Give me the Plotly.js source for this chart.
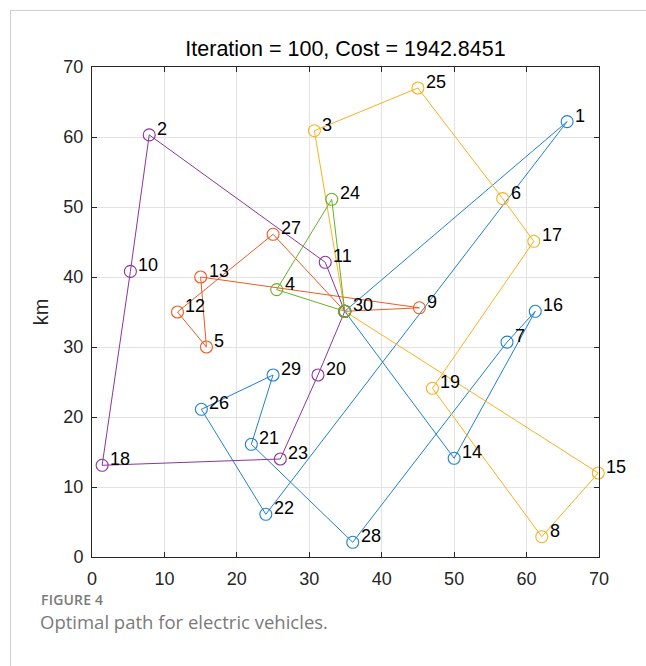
<!DOCTYPE html>
<html>
<head>
<meta charset="utf-8">
<script src="https://cdn.plot.ly/plotly-3.0.1.min.js"></script>
<style>
  html, body { margin: 0; padding: 0; background: #fff; }
  #wrap { position: relative; width: 646px; height: 666px; }
  #chart { position: absolute; left: 0; top: 0; width: 646px; height: 666px; }
  #frame { position: absolute; left: 10px; top: 10px; width: 636px; height: 656px;
           border-left: 1px solid #cfcfcf; border-top: 1px solid #cfcfcf; pointer-events: none; }
  #cap1 { position: absolute; left: 41px; top: 591px; font-family: "Open Sans", "Noto Sans", sans-serif;
          font-size: 14px; line-height: 18px; font-weight: 600; color: #7a7a7a; letter-spacing: 0.2px; }
  #cap2 { position: absolute; left: 40px; top: 610px; font-family: "Open Sans", "Noto Sans", sans-serif;
          font-size: 18.5px; line-height: 24px; color: #7a7a7a; }
</style>
</head>
<body>
<div id="wrap">
  <div id="chart"></div>
  <div id="frame"></div>
  <div id="cap1">FIGURE 4</div>
  <div id="cap2">Optimal path for electric vehicles.</div>
</div>
<script>
// Node coordinates (km), node i is at index i-1
const nodeIds = [1,2,3,4,5,6,7,8,9,10,11,12,13,14,15,16,17,18,19,20,21,22,23,24,25,26,27,28,29,30];
const nodeX = [65.6, 7.9, 30.7, 25.5, 15.8, 56.7, 57.3, 62.1, 45.2, 5.3,
               32.2, 11.8, 15.0, 50.0, 69.9, 61.2, 61.0, 1.4, 47.0, 31.2,
               22.0, 24.0, 26.0, 33.1, 45.0, 15.1, 25.0, 36.0, 25.0, 34.9];
const nodeY = [62.2, 60.3, 60.9, 38.2, 30.0, 51.2, 30.7, 2.9, 35.6, 40.8,
               42.1, 35.0, 40.0, 14.1, 12.0, 35.1, 45.1, 13.1, 24.1, 26.0,
               16.1, 6.1, 14.0, 51.1, 67.0, 21.1, 46.1, 2.1, 26.0, 35.1];

// Vehicle routes (node ids)
const route1 = [30, 1, 22, 26, 29, 21, 28, 7, 16, 14, 30];
const route2 = [30, 27, 12, 5, 13, 9, 30];
const route3 = [30, 3, 25, 6, 17, 19, 8, 15, 30];
const route4 = [30, 11, 2, 10, 18, 23, 20, 30];
const route5 = [30, 4, 24, 30];

const routes = [route1, route2, route3, route4, route5];
const routeColors = ['#1f80cf', '#f05a22', '#f7b21e', '#8b359b', '#6aaf2a'];

const titleText = 'Iteration = 100, Cost = 1942.8451';
const yTitle = 'km';
const tickVals = [0, 10, 20, 30, 40, 50, 60, 70];

const FONT = '"Liberation Sans", Arial, Helvetica, sans-serif';

const traces = routes.map((r, k) => ({
  type: 'scatter',
  mode: 'lines+markers',
  x: r.map(id => nodeX[nodeIds.indexOf(id)]),
  y: r.map(id => nodeY[nodeIds.indexOf(id)]),
  line: { color: routeColors[k], width: 1 },
  marker: { symbol: 'circle-open', size: 12, color: routeColors[k], line: { width: 1.1, color: routeColors[k] } },
  cliponaxis: false,
  hoverinfo: 'skip',
  showlegend: false
}));

const annotations = nodeIds.map((id, i) => ({
  x: nodeX[i], y: nodeY[i], xref: 'x', yref: 'y',
  text: String(id), showarrow: false,
  xanchor: 'left', yanchor: 'middle', xshift: 6, yshift: 6,
  font: { family: FONT, size: 18, color: '#000' }
}));

const axisCommon = {
  range: [0, 70],
  tickvals: tickVals,
  ticktext: tickVals.map(String),
  ticks: 'inside',
  ticklen: 5,
  tickwidth: 1,
  tickcolor: '#262626',
  showline: true,
  linecolor: '#262626',
  linewidth: 1,
  mirror: 'ticks',
  showgrid: true,
  gridcolor: '#e3e3e3',
  gridwidth: 1,
  zeroline: false,
  tickfont: { family: FONT, size: 18, color: '#262626' },
  fixedrange: true
};

const layout = {
  width: 646,
  height: 666,
  margin: { l: 92, r: 47, t: 67, b: 109, pad: 0 },
  paper_bgcolor: '#fff',
  plot_bgcolor: '#fff',
  title: {
    text: titleText,
    font: { family: FONT, size: 21.5, color: '#000' },
    x: 0.5, xref: 'paper', xanchor: 'center',
    y: 1 - 48 / 666, yref: 'container', yanchor: 'middle'
  },
  xaxis: Object.assign({}, axisCommon, { ticklabelstandoff: 5 }),
  yaxis: Object.assign({}, axisCommon, {
    ticklabelstandoff: 4,
    title: { text: yTitle, font: { family: FONT, size: 20, color: '#262626' }, standoff: 9 }
  }),
  annotations: annotations,
  showlegend: false
};

Plotly.newPlot('chart', traces, layout, { displayModeBar: false, staticPlot: true });
</script>
</body>
</html>
